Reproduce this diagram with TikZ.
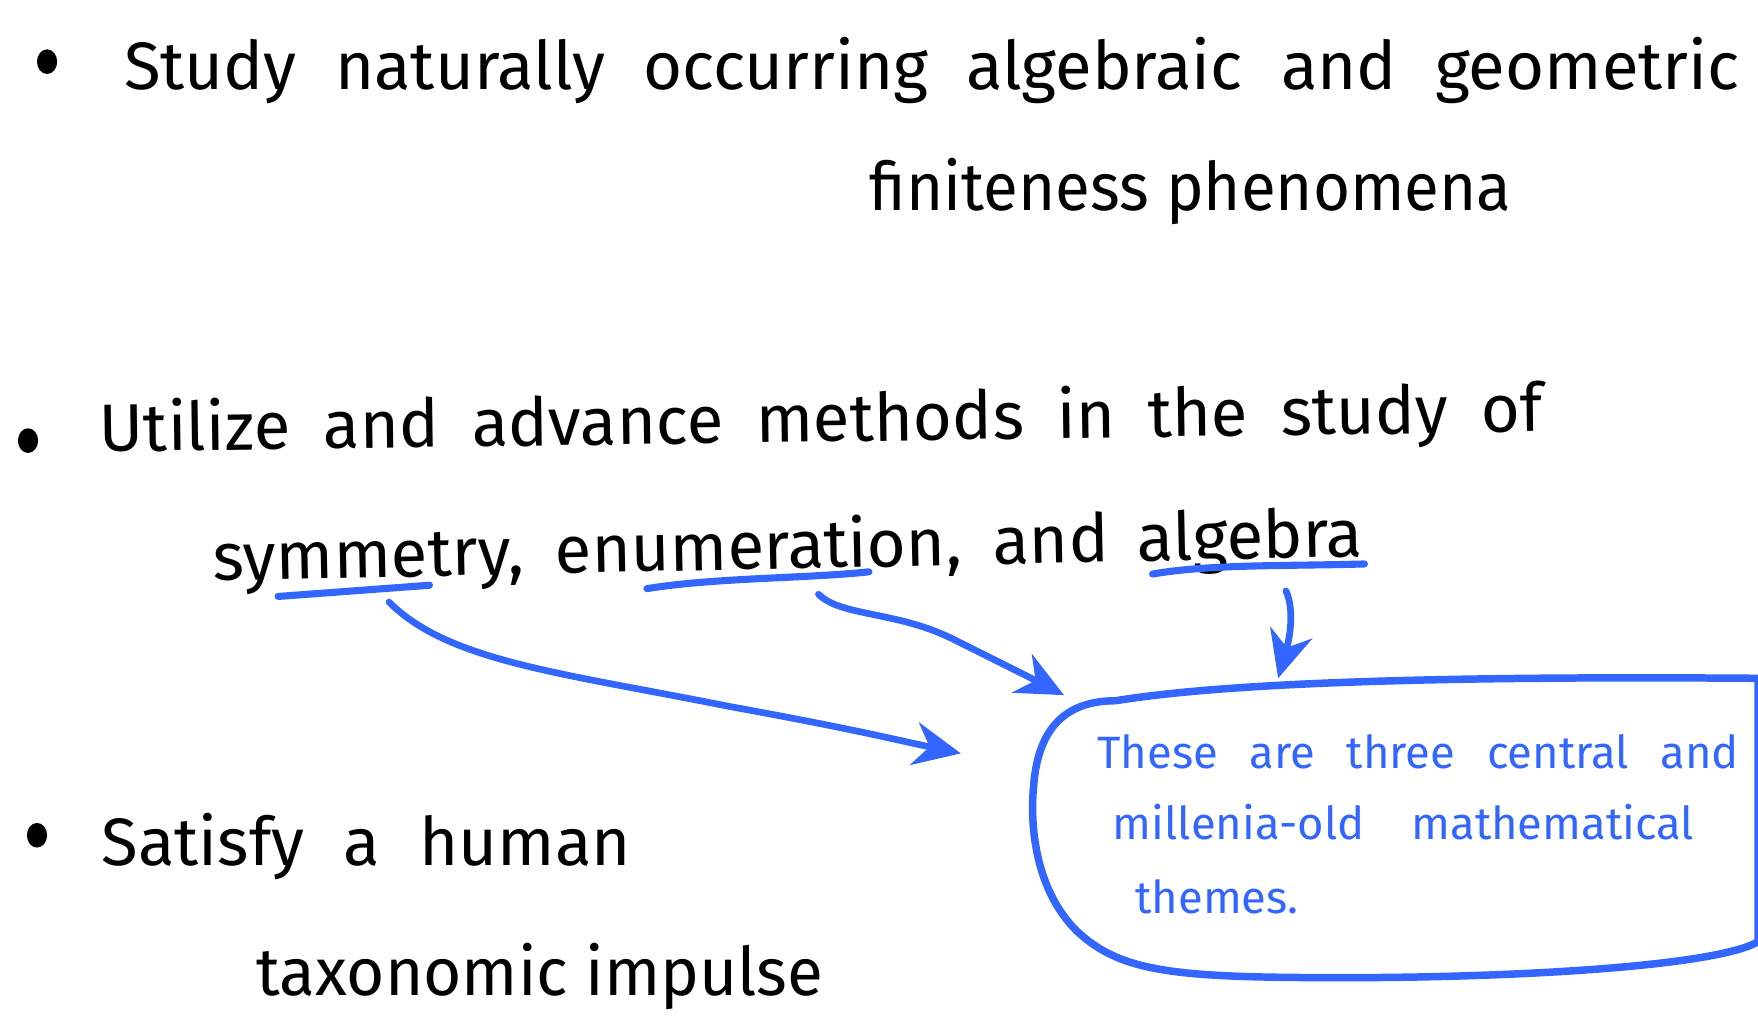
\documentclass[tikz,border=0pt]{standalone}
\usepackage{fontspec}
\setmainfont{Fira Sans}
\usetikzlibrary{arrows.meta}
\definecolor{pen}{RGB}{51,102,255}
\tikzset{
  mainline/.style={anchor=base west, inner sep=0pt, font=\fontsize{17}{20}\selectfont},
  noteline/.style={anchor=base west, inner sep=0pt, text=pen, font=\fontsize{11.5}{14}\selectfont},
  bulletdot/.style={fill=black},
  uline/.style={draw=pen, line width=1.8pt, line cap=round},
  penarrow/.style={draw=pen, line width=1.7pt, line cap=round, -{Stealth[length=12pt,width=11pt]}},
  notebox/.style={draw=pen, line width=1.9pt},
}
\begin{document}
\begin{tikzpicture}[x=0.01cm,y=-0.01cm]
\useasboundingbox (0,0) rectangle (1568,918);
\clip (0,0) rectangle (1568,918);
% bullets
\fill[bulletdot] (42,55) ellipse (9 and 11);
\fill[bulletdot] (25,393) ellipse (9 and 11);
\fill[bulletdot] (33,745) ellipse (9 and 11);
% main text
\node[mainline] (l1) at (110,80) {\makebox[14.4cm][s]{Study naturally occurring algebraic and geometric}};
\node[mainline] (l2) at (775,188) {\scalebox{0.95}[1]{finiteness phenomena}};
\node[mainline, rotate=0.8] (l3) at (88,403) {\makebox[12.87cm][s]{Utilize and advance methods in the study of}};
\node[mainline, rotate=1.2] (l4) at (190,518) {\makebox[10.25cm][s]{symmetry, enumeration, and algebra}};
\node[mainline] (l5) at (90,772) {\makebox[4.72cm][s]{Satisfy a human}};
\node[mainline] (l6) at (228,888) {\scalebox{0.98}[1]{taxonomic impulse}};
% underlines
\draw[uline] (248,532) -- (383,522);
\draw[uline] (577,525) .. controls (640,515) and (720,516) .. (775,510);
\draw[uline] (1028,512) .. controls (1080,503) and (1150,505) .. (1217,503);
% coordinates for connectors
\coordinate (symm) at (347,537);
\coordinate (enum) at (730,530);
\coordinate (alg) at (1147,527);
\coordinate (tgt1) at (857,672);
\coordinate (tgt2) at (949,620);
\coordinate (tgt3) at (1140,605);
% note box
\draw[notebox] (995,625) .. controls (1100,608) and (1300,603) .. (1568,605)
  -- (1568,840) .. controls (1530,862) and (1350,872) .. (1200,872)
  .. controls (1050,872) and (1000,868) .. (960,830)
  .. controls (925,795) and (918,740) .. (922,700)
  .. controls (926,650) and (950,625) .. (995,625);
\node[noteline] (n1) at (978,685) {\makebox[5.72cm][s]{These are three central and}};
\node[noteline] (n2) at (992,749) {\makebox[5.18cm][s]{millenia-old mathematical}};
\node[noteline] (n3) at (1012,815) {\makebox[1.58cm][s]{themes.}};
% arrows
\draw[penarrow] (symm) .. controls (400,590) and (500,600) .. (650,630) .. controls (760,650) and (800,660) .. (tgt1);
\draw[penarrow] (enum) .. controls (750,550) and (800,545) .. (850,570) .. controls (890,590) and (920,605) .. (tgt2);
\draw[penarrow] (alg) .. controls (1155,545) and (1150,570) .. (tgt3);
\end{tikzpicture}
\end{document}
